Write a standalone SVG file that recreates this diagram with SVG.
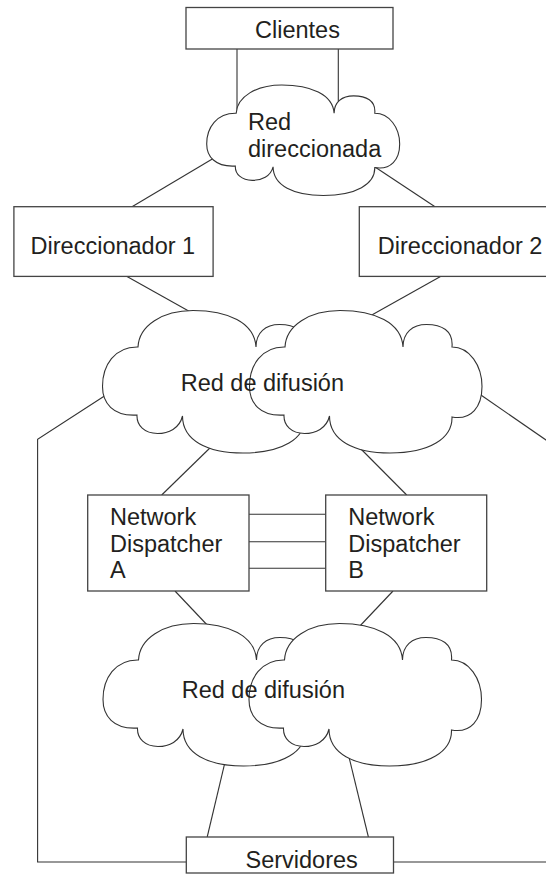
<svg xmlns="http://www.w3.org/2000/svg" width="546" height="875" viewBox="0 0 546 875">
<style>
.box{fill:#fff;stroke:#444;stroke-width:1.3}
.cl{fill:#fff;stroke:#333;stroke-width:1.1}
.ln{fill:none;stroke:#333;stroke-width:1.1}
text{font-family:"Liberation Sans",Arial,sans-serif;font-size:23.5px;fill:#231f20}
</style>
<defs>
<path id="cloud" vector-effect="non-scaling-stroke" d="M35.5,36.5 C36.5,15 60,0 90.5,0 C125,0 152,12 153.5,36.5 C153.5,22 163,14 177,14 C192,14 204,20 202.5,36.5 C220,36.5 232.5,55 232.5,76 C232.5,96 222,110 202.5,106.5 C203,128 180,142.5 140.5,142.5 C105,142.5 80,130 80,105.5 C77,118 66,123 55,123 C42,123 34,115 34.5,104.5 C10,106 0,92 0,76 C0,55 12,36 35.5,36.5 Z"/>
</defs>
<rect width="546" height="875" fill="#fff"/>
<g id="connectors">
<line class="ln" x1="237" y1="49" x2="237" y2="116"/>
<line class="ln" x1="338.3" y1="49" x2="338.3" y2="106"/>
<line class="ln" x1="214" y1="158" x2="132" y2="206.7"/>
<line class="ln" x1="375" y1="167" x2="435" y2="206.7"/>
<line class="ln" x1="127" y1="276.4" x2="194" y2="314"/>
<line class="ln" x1="440.5" y1="276.4" x2="370" y2="316"/>
<line class="ln" x1="214" y1="444" x2="161.7" y2="495"/>
<line class="ln" x1="356" y1="444" x2="406.7" y2="495"/>
<polyline class="ln" points="106,395 37.6,439.3 37.6,862 186.3,862"/>
<line class="ln" x1="478" y1="393" x2="560" y2="449.7"/>
<line class="ln" x1="249" y1="514.3" x2="325.7" y2="514.3"/>
<line class="ln" x1="249" y1="541.7" x2="325.7" y2="541.7"/>
<line class="ln" x1="249" y1="568.3" x2="325.7" y2="568.3"/>
<line class="ln" x1="175" y1="591" x2="210" y2="628"/>
<line class="ln" x1="393" y1="591" x2="358" y2="628"/>
<line class="ln" x1="225.5" y1="760" x2="207.2" y2="837"/>
<line class="ln" x1="348" y1="753" x2="368.4" y2="837"/>
<line class="ln" x1="393.5" y1="862" x2="560" y2="862"/>
</g>
<g id="clientes">
<rect class="box" x="186" y="7.5" width="207" height="41.5"/>
<text x="255" y="38">Clientes</text>
</g>
<g id="red-direccionada">
<use href="#cloud" class="cl" transform="translate(206.7,85) scale(0.83,0.775)"/>
<text x="248" y="130">Red</text>
<text x="248" y="157">direccionada</text>
</g>
<g id="direccionador-1">
<rect class="box" x="13.9" y="206.7" width="199.2" height="69.7"/>
<text x="30.6" y="254.4">Direccionador 1</text>
</g>
<g id="direccionador-2">
<rect class="box" x="359.3" y="206.7" width="210" height="69.7"/>
<text x="377.8" y="254.4">Direccionador 2</text>
</g>
<g id="red-difusion-1">
<use href="#cloud" class="cl" transform="translate(102.5,310.5)"/>
<use href="#cloud" class="cl" transform="translate(249.5,310.5)"/>
<text x="180.7" y="390.7">Red de difusión</text>
</g>
<g id="network-dispatcher-a">
<rect class="box" x="87.7" y="495" width="161.3" height="96"/>
<text x="110" y="525">Network</text>
<text x="110" y="551.7">Dispatcher</text>
<text x="110" y="578.3">A</text>
</g>
<g id="network-dispatcher-b">
<rect class="box" x="325.7" y="495" width="161" height="96"/>
<text x="348.3" y="525">Network</text>
<text x="348.3" y="551.7">Dispatcher</text>
<text x="348.3" y="578.3">B</text>
</g>
<g id="red-difusion-2">
<use href="#cloud" class="cl" transform="translate(103,623.5)"/>
<use href="#cloud" class="cl" transform="translate(249,623.5)"/>
<text x="181.7" y="698">Red de difusión</text>
</g>
<g id="servidores">
<rect class="box" x="186.3" y="837" width="207.2" height="36"/>
<text x="245.5" y="868">Servidores</text>
</g>
</svg>
